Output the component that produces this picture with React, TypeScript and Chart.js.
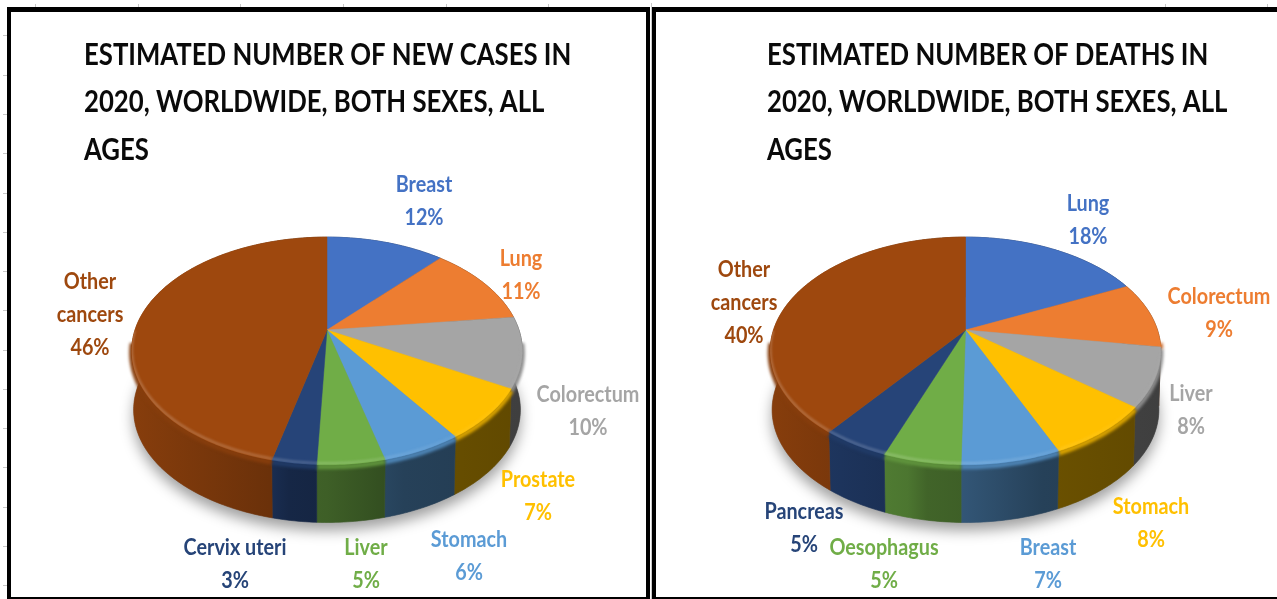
import React, { useEffect, useRef } from "react";
import { Chart, registerables } from "chart.js";

Chart.register(...registerables);

// ---- data ----
const casesTitle = ["ESTIMATED NUMBER OF NEW CASES IN", "2020, WORLDWIDE, BOTH SEXES, ALL", "AGES"];
const casesLabels: any[] = ["Breast", "Lung", "Colorectum", "Prostate", "Stomach", "Liver", "Cervix uteri", ["Other", "cancers"]];
const casesValues = [11.7, 11.4, 10.0, 7.3, 5.6, 4.7, 3.1, 46.2];
const casesColors = ["#4472C4", "#ED7D31", "#A5A5A5", "#FFC000", "#5B9BD5", "#70AD47", "#264478", "#9E480E"];
const casesLabelX = [424, 521, 588, 538, 469, 366, 235, 90];
const casesLabelY = [185, 259, 395, 480, 540, 548, 548, 282];

const deathsTitle = ["ESTIMATED NUMBER OF DEATHS IN", "2020, WORLDWIDE, BOTH SEXES, ALL", "AGES"];
const deathsLabels: any[] = ["Lung", "Colorectum", "Liver", "Stomach", "Breast", "Oesophagus", "Pancreas", ["Other", "cancers"]];
const deathsValues = [18.0, 9.4, 8.3, 7.7, 6.9, 5.4, 4.7, 39.6];
const deathsColors = casesColors;
const deathsLabelX = [1088, 1219, 1191, 1151, 1048, 884, 804, 744];
const deathsLabelY = [204, 297, 394, 507, 548, 548, 512, 270];

const topTickX = [35, 138, 240, 343, 446, 548, 1165, 1267];
const leftTickY = [35, 75, 114, 153, 193, 232, 271, 310, 350, 389, 428, 467, 507, 546, 585];

// ---- helpers ----
const PERSP = 0.184;
const B_RATIO = 0.573;
const WALL_SHIFT = 59;
const WALL_SCALE = 0.99;

function rgb(hex: string) {
  const n = parseInt(hex.slice(1), 16);
  return [(n >> 16) & 255, (n >> 8) & 255, n & 255];
}
function shade(hex: string, f: number, alpha = 1) {
  const c = rgb(hex).map((v) => Math.round(f <= 1 ? v * f : v + (255 - v) * (f - 1)));
  return `rgba(${c[0]},${c[1]},${c[2]},${alpha})`;
}

function project(cx: number, cy: number, a: number, t: number, bottom = false) {
  const b = a * B_RATIO;
  const u = Math.cos(t);
  const v = Math.sin(t);
  const d = 1 - PERSP * v;
  const s = bottom ? WALL_SCALE : 1;
  return [cx + (s * a * u) / d, cy + (bottom ? WALL_SHIFT : 0) + (s * b * v) / d];
}
function tracePath(ctx: CanvasRenderingContext2D, cx: number, cy: number, a: number, t0: number, t1: number, bottom: boolean, move: boolean) {
  const n = Math.max(2, Math.ceil(Math.abs(t1 - t0) * 60));
  for (let i = 0; i <= n; i++) {
    const t = t0 + ((t1 - t0) * i) / n;
    const p = project(cx, cy, a, t, bottom);
    if (i === 0 && move) ctx.moveTo(p[0], p[1]);
    else ctx.lineTo(p[0], p[1]);
  }
}

const wallStops: [number, number][] = [
  [0, 0.85],
  [0.35, 0.68],
  [0.4, 0.58],
  [0.5, 0.55],
  [0.7, 0.42],
  [1, 0.38],
];

const pie3d = {
  id: "pie3d",
  beforeDatasetDraw() {
    return false; // the arcs are painted by the perspective routine below
  },
  afterDatasetsDraw(chart: any) {
    const ctx: CanvasRenderingContext2D = chart.ctx;
    const arcs = chart.getDatasetMeta(0).data;
    const colors = chart.data.datasets[0].backgroundColor as string[];
    const { x: cx, y: cy, outerRadius: a } = arcs[0];

    // soft shadow under the pie
    ctx.save();
    ctx.shadowColor = "rgba(0,0,0,0.38)";
    ctx.shadowBlur = 14;
    ctx.shadowOffsetY = 8;
    ctx.fillStyle = "#888";
    ctx.beginPath();
    tracePath(ctx, cx, cy, a, 0, Math.PI * 2, true, true);
    ctx.closePath();
    ctx.fill();
    ctx.restore();

    // outer wall
    arcs.forEach((arc: any, i: number) => {
      const g = ctx.createLinearGradient(cx - a, 0, cx + a, 0);
      wallStops.forEach(([p, f]) => g.addColorStop(p, shade(colors[i], f)));
      ctx.fillStyle = g;
      ctx.strokeStyle = g;
      ctx.lineWidth = 0.6;
      ctx.beginPath();
      tracePath(ctx, cx, cy, a, arc.startAngle, arc.endAngle, false, true);
      tracePath(ctx, cx, cy, a, arc.endAngle, arc.startAngle, true, false);
      ctx.closePath();
      ctx.fill();
      ctx.stroke();
    });

    // bevel between wall and top, only on the front half
    arcs.forEach((arc: any, i: number) => {
      const t0 = Math.max(arc.startAngle, 0.1);
      const t1 = Math.min(arc.endAngle, Math.PI - 0.1);
      if (t1 <= t0) return;
      ctx.save();
      ctx.filter = "blur(1.6px)";
      ctx.strokeStyle = shade(colors[i], 0.85);
      ctx.lineWidth = 5;
      ctx.beginPath();
      ctx.translate(0, 2);
      tracePath(ctx, cx, cy, a, t0, t1, false, true);
      ctx.stroke();
      ctx.restore();
    });

    // top faces
    arcs.forEach((arc: any, i: number) => {
      ctx.fillStyle = colors[i];
      ctx.strokeStyle = colors[i];
      ctx.lineWidth = 0.5;
      ctx.beginPath();
      ctx.moveTo(cx, cy);
      tracePath(ctx, cx, cy, a, arc.startAngle, arc.endAngle, false, false);
      ctx.closePath();
      ctx.fill();
      ctx.stroke();
    });

    // lit rim on the front of the top face
    ctx.save();
    const region = new Path2D();
    tracePathTo(region, cx, cy, a);
    ctx.clip(region);
    arcs.forEach((arc: any, i: number) => {
      const g = ctx.createLinearGradient(cx - a, 0, cx + a, 0);
      g.addColorStop(0, shade(colors[i], 1.22, 0.9));
      g.addColorStop(0.55, shade(colors[i], 1.22, 0.7));
      g.addColorStop(1, shade(colors[i], 1.1, 0.2));
      ctx.save();
      ctx.filter = "blur(1.2px)";
      ctx.strokeStyle = g;
      ctx.lineWidth = 3;
      ctx.beginPath();
      ctx.translate(0, -1.5);
      const t0 = Math.max(arc.startAngle, 0.15);
      const t1 = Math.min(arc.endAngle, Math.PI - 0.02);
      if (t1 > t0) {
        tracePath(ctx, cx, cy, a, t0, t1, false, true);
        ctx.stroke();
      }
      ctx.restore();
    });
    ctx.restore();
  },
};

function tracePathTo(p: Path2D, cx: number, cy: number, a: number) {
  for (let i = 0; i <= 360; i++) {
    const q = project(cx, cy, a, (i / 360) * Math.PI * 2);
    if (i === 0) p.moveTo(q[0], q[1]);
    else p.lineTo(q[0], q[1]);
  }
  p.closePath();
}

// the title block is allowed to run past the pie's padding and is condensed to the reference's width
const titleFit = {
  id: "titleFit",
  afterLayout(chart: any, _args: any, opts: any) {
    const tb = chart.titleBlock;
    tb.right = tb.left + 1200;
    if (tb.__wrapped) return;
    tb.__wrapped = true;
    const orig = tb.draw.bind(tb);
    tb.draw = () => {
      const ctx = chart.ctx;
      ctx.save();
      ctx.translate(tb.left, 0);
      ctx.scale(opts.scaleX, 1);
      ctx.translate(-tb.left, 0);
      orig();
      ctx.restore();
    };
  },
};

const sliceLabels = {
  id: "sliceLabels",
  afterDraw(chart: any, _args: any, opts: any) {
    const ctx: any = chart.ctx;
    const labels = chart.data.labels;
    const values = chart.data.datasets[0].data;
    const colors = chart.data.datasets[0].backgroundColor;
    ctx.save();
    ctx.font = "bold 23px Lato";
    ctx.textAlign = "center";
    ctx.textBaseline = "middle";
    labels.forEach((label: any, i: number) => {
      const lines = [...(Array.isArray(label) ? label : [label]), `${Math.round(values[i])}%`];
      ctx.fillStyle = colors[i];
      lines.forEach((line: string, j: number) => {
        ctx.save();
        ctx.translate(opts.x[i] - opts.left, opts.y[i] + j * 33);
        ctx.scale(0.86, 1);
        ctx.fillText(line, 0, 0);
        ctx.restore();
      });
    });
    ctx.restore();
  },
};

function PiePanel({ left, width, padLeft, padRight, title, labels, values, colors, labelX, labelY, titleScale }: any) {
  const ref = useRef<HTMLCanvasElement>(null);
  useEffect(() => {
    const chart = new Chart(ref.current as HTMLCanvasElement, {
      type: "pie",
      data: {
        labels,
        datasets: [{ data: values, backgroundColor: colors, borderWidth: 0 }],
      },
      plugins: [titleFit, pie3d, sliceLabels],
      options: {
        responsive: false,
        animation: false,
        radius: 192,
        layout: { padding: { left: padLeft, right: padRight, top: 0, bottom: 112.5 } },
        plugins: {
          legend: { display: false },
          tooltip: { enabled: false },
          title: {
            display: true,
            text: title,
            align: "start",
            color: "#0a0a0a",
            padding: { top: 31, bottom: 0 },
            font: { family: "Lato", size: 31, weight: "bold", lineHeight: 47.5 / 31 },
          },
          titleFit: { scaleX: titleScale },
          sliceLabels: { x: labelX, y: labelY, left },
        },
      } as any,
    });
    return () => chart.destroy();
  }, []);
  return <canvas ref={ref} width={width} height={599} style={{ position: "absolute", left, top: 0, display: "block" }} />;
}

const bar = (left: number, top: number, w: number, h: number, color = "#000") => (
  <div key={`${left}-${top}-${w}-${h}`} style={{ position: "absolute", left, top, width: w, height: h, background: color }} />
);

export default function App() {
  return (
    <div style={{ position: "fixed", left: 0, top: 0, width: 1277, height: 599, overflow: "hidden", background: "#fff" }}>
      {topTickX.map((x) => bar(x, 4, 1, 3, "#c8c8c8"))}
      {leftTickY.map((y) => bar(3, y, 4, 1, "#c8c8c8"))}
      {bar(651, 3, 1, 596, "#c8c8c8")}
      <PiePanel left={0} width={650} padLeft={84} padRight={80} title={casesTitle} labels={casesLabels} values={casesValues} colors={casesColors} labelX={casesLabelX} labelY={casesLabelY} titleScale={0.83} />
      <PiePanel left={652} width={625} padLeft={115} padRight={113} title={deathsTitle} labels={deathsLabels} values={deathsValues} colors={deathsColors} labelX={deathsLabelX} labelY={deathsLabelY} titleScale={0.83} />
      {bar(7, 7, 643, 5)}
      {bar(7, 7, 4, 592)}
      {bar(646, 7, 4, 592)}
      {bar(7, 597, 643, 2)}
      {bar(652, 7, 625, 5)}
      {bar(652, 7, 4, 592)}
      {bar(652, 597, 625, 2)}
    </div>
  );
}
